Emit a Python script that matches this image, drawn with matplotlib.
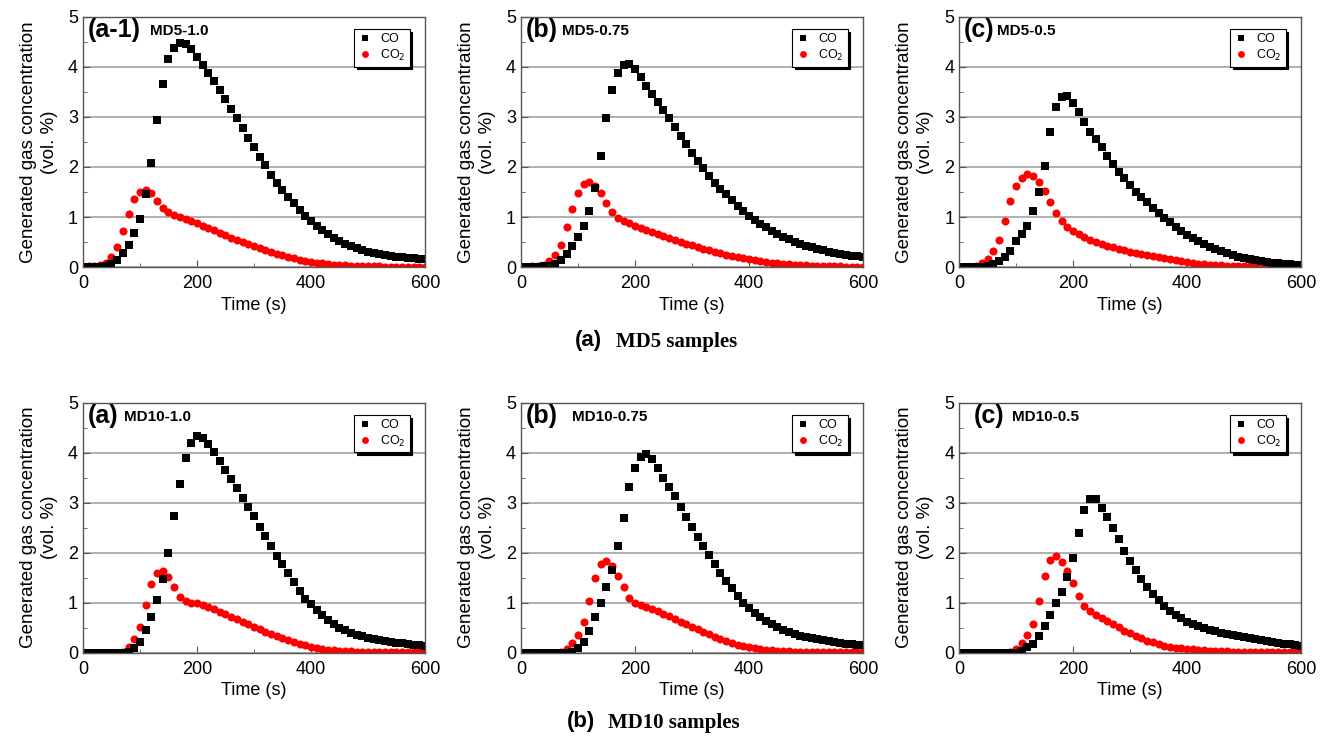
import numpy as np
import matplotlib
matplotlib.use("Agg")
import matplotlib.pyplot as plt
from matplotlib.ticker import MultipleLocator

plt.rcParams['font.family'] = ['Liberation Sans', 'DejaVu Sans']

# sampling time (s), one reading every 10 s
time = np.arange(0, 601, 10)

# MD5 samples
md5_10_co = [0, 0, 0.01, 0.01, 0.03,
             0.07, 0.15, 0.28, 0.45, 0.68,
             0.97, 1.45, 2.08, 2.93, 3.65,
             4.15, 4.38, 4.47, 4.46, 4.35,
             4.20, 4.03, 3.88, 3.72, 3.53,
             3.35, 3.15, 2.97, 2.77, 2.58,
             2.39, 2.19, 2.03, 1.84, 1.68,
             1.54, 1.40, 1.28, 1.14, 1.03,
             0.93, 0.83, 0.74, 0.66, 0.59,
             0.53, 0.47, 0.42, 0.38, 0.34,
             0.31, 0.28, 0.26, 0.24, 0.22,
             0.21, 0.20, 0.19, 0.18, 0.17,
             0.16]
md5_10_co2 = [0.01, 0.02, 0.03, 0.05, 0.09,
              0.20, 0.40, 0.72, 1.07, 1.35,
              1.50, 1.53, 1.47, 1.32, 1.18,
              1.10, 1.05, 1.01, 0.96, 0.92,
              0.88, 0.83, 0.79, 0.74, 0.69,
              0.64, 0.59, 0.55, 0.50, 0.46,
              0.42, 0.38, 0.34, 0.30, 0.27,
              0.24, 0.21, 0.18, 0.15, 0.13,
              0.11, 0.09, 0.08, 0.06, 0.05,
              0.04, 0.04, 0.03, 0.03, 0.02,
              0.02, 0.02, 0.02, 0.01, 0.01,
              0.01, 0.01, 0.01, 0.01, 0.01,
              0.01]
md5_075_co = [0, 0, 0, 0.01, 0.02,
              0.03, 0.07, 0.15, 0.27, 0.42,
              0.60, 0.82, 1.13, 1.57, 2.22,
              2.98, 3.53, 3.87, 4.03, 4.05,
              3.95, 3.79, 3.62, 3.45, 3.30,
              3.13, 2.97, 2.79, 2.61, 2.45,
              2.28, 2.12, 1.97, 1.82, 1.68,
              1.55, 1.45, 1.33, 1.22, 1.13,
              1.03, 0.95, 0.87, 0.80, 0.73,
              0.67, 0.61, 0.56, 0.51, 0.47,
              0.43, 0.40, 0.37, 0.34, 0.31,
              0.29, 0.27, 0.25, 0.23, 0.22,
              0.20]
md5_075_co2 = [0.01, 0.01, 0.02, 0.03, 0.05,
               0.13, 0.25, 0.45, 0.80, 1.17,
               1.48, 1.65, 1.70, 1.62, 1.48,
               1.28, 1.10, 0.99, 0.93, 0.89,
               0.83, 0.79, 0.75, 0.71, 0.67,
               0.63, 0.59, 0.55, 0.51, 0.47,
               0.44, 0.40, 0.37, 0.34, 0.31,
               0.28, 0.25, 0.22, 0.20, 0.18,
               0.16, 0.14, 0.12, 0.10, 0.09,
               0.08, 0.07, 0.06, 0.05, 0.04,
               0.04, 0.03, 0.03, 0.02, 0.02,
               0.02, 0.02, 0.01, 0.01, 0.01,
               0.01]
md5_05_co = [0, 0, 0, 0, 0.01,
             0.02, 0.06, 0.13, 0.21, 0.33,
             0.52, 0.67, 0.83, 1.12, 1.49,
             2.02, 2.69, 3.19, 3.39, 3.42,
             3.28, 3.09, 2.89, 2.70, 2.55,
             2.39, 2.21, 2.05, 1.90, 1.77,
             1.63, 1.50, 1.40, 1.29, 1.19,
             1.09, 0.99, 0.90, 0.81, 0.73,
             0.65, 0.59, 0.52, 0.46, 0.41,
             0.36, 0.32, 0.28, 0.24, 0.21,
             0.18, 0.16, 0.14, 0.12, 0.10,
             0.09, 0.08, 0.07, 0.06, 0.05,
             0.05]
md5_05_co2 = [0.01, 0.01, 0.01, 0.03, 0.08,
              0.17, 0.32, 0.55, 0.93, 1.31,
              1.61, 1.78, 1.85, 1.81, 1.70,
              1.52, 1.30, 1.09, 0.93, 0.81,
              0.73, 0.67, 0.60, 0.55, 0.51,
              0.47, 0.43, 0.40, 0.37, 0.34,
              0.31, 0.28, 0.26, 0.24, 0.22,
              0.20, 0.18, 0.16, 0.14, 0.12,
              0.10, 0.09, 0.07, 0.06, 0.05,
              0.04, 0.04, 0.03, 0.03, 0.02,
              0.02, 0.02, 0.02, 0.01, 0.01,
              0.01, 0.01, 0.01, 0.01, 0.01,
              0.01]

# MD10 samples
md10_10_co = [0, 0, 0, 0, 0,
              0, 0, 0, 0.02, 0.10,
              0.22, 0.45, 0.72, 1.05, 1.47,
              2.00, 2.73, 3.37, 3.90, 4.20,
              4.34, 4.30, 4.17, 4.02, 3.84,
              3.65, 3.47, 3.29, 3.10, 2.92,
              2.73, 2.52, 2.33, 2.14, 1.94,
              1.77, 1.59, 1.41, 1.23, 1.08,
              0.97, 0.85, 0.75, 0.65, 0.57,
              0.50, 0.45, 0.40, 0.36, 0.33,
              0.30, 0.28, 0.26, 0.24, 0.22,
              0.20, 0.19, 0.17, 0.16, 0.15,
              0.14]
md10_10_co2 = [0, 0, 0, 0, 0,
               0, 0, 0.02, 0.12, 0.27,
               0.52, 0.95, 1.37, 1.60, 1.63,
               1.52, 1.31, 1.12, 1.03, 1.00,
               0.99, 0.95, 0.91, 0.87, 0.82,
               0.77, 0.72, 0.67, 0.62, 0.57,
               0.52, 0.47, 0.42, 0.37, 0.33,
               0.29, 0.25, 0.21, 0.18, 0.15,
               0.12, 0.10, 0.08, 0.06, 0.05,
               0.04, 0.03, 0.03, 0.02, 0.02,
               0.02, 0.01, 0.01, 0.01, 0.01,
               0.01, 0.01, 0.01, 0.01, 0.01,
               0.01]
md10_075_co = [0, 0, 0, 0, 0,
               0, 0, 0, 0, 0.02,
               0.10, 0.22, 0.43, 0.72, 1.00,
               1.31, 1.65, 2.13, 2.70, 3.31,
               3.70, 3.91, 3.97, 3.87, 3.69,
               3.50, 3.32, 3.13, 2.91, 2.71,
               2.52, 2.32, 2.13, 1.95, 1.77,
               1.59, 1.43, 1.29, 1.13, 1.00,
               0.90, 0.80, 0.72, 0.64, 0.57,
               0.51, 0.46, 0.41, 0.37, 0.34,
               0.31, 0.29, 0.27, 0.25, 0.23,
               0.21, 0.20, 0.18, 0.17, 0.16,
               0.15]
md10_075_co2 = [0, 0, 0, 0, 0,
                0, 0, 0.02, 0.07, 0.20,
                0.35, 0.61, 1.03, 1.50, 1.77,
                1.83, 1.73, 1.53, 1.31, 1.10,
                1.00, 0.95, 0.91, 0.87, 0.83,
                0.78, 0.73, 0.68, 0.62, 0.57,
                0.52, 0.47, 0.42, 0.37, 0.32,
                0.27, 0.23, 0.19, 0.16, 0.13,
                0.11, 0.09, 0.07, 0.06, 0.05,
                0.04, 0.03, 0.03, 0.02, 0.02,
                0.02, 0.01, 0.01, 0.01, 0.01,
                0.01, 0.01, 0.01, 0.01, 0.01,
                0.01]
md10_05_co = [0, 0, 0, 0, 0,
              0, 0, 0, 0, 0,
              0, 0.04, 0.12, 0.17, 0.33,
              0.54, 0.75, 0.99, 1.22, 1.52,
              1.89, 2.39, 2.85, 3.08, 3.07,
              2.90, 2.71, 2.50, 2.27, 2.04,
              1.84, 1.65, 1.47, 1.31, 1.17,
              1.05, 0.94, 0.84, 0.75, 0.69,
              0.62, 0.57, 0.53, 0.49, 0.46,
              0.43, 0.40, 0.37, 0.35, 0.33,
              0.31, 0.29, 0.27, 0.25, 0.23,
              0.21, 0.20, 0.18, 0.17, 0.15,
              0.14]
md10_05_co2 = [0, 0, 0, 0, 0,
               0, 0, 0, 0, 0.02,
               0.08, 0.20, 0.35, 0.57, 1.04,
               1.54, 1.85, 1.93, 1.82, 1.64,
               1.40, 1.13, 0.93, 0.83, 0.75,
               0.69, 0.64, 0.57, 0.51, 0.44,
               0.39, 0.33, 0.29, 0.24, 0.21,
               0.17, 0.14, 0.12, 0.10, 0.09,
               0.08, 0.07, 0.06, 0.05, 0.04,
               0.04, 0.03, 0.03, 0.02, 0.02,
               0.02, 0.01, 0.01, 0.01, 0.01,
               0.01, 0.01, 0.01, 0.01, 0.01,
               0.01]

panels = [
    ("(a-1)", "MD5-1.0", md5_10_co, md5_10_co2),
    ("(b)", "MD5-0.75", md5_075_co, md5_075_co2),
    ("(c)", "MD5-0.5", md5_05_co, md5_05_co2),
    ("(a)", "MD10-1.0", md10_10_co, md10_10_co2),
    ("(b)", "MD10-0.75", md10_075_co, md10_075_co2),
    ("(c)", "MD10-0.5", md10_05_co, md10_05_co2),
]
# where the sample name starts, in axes fraction
name_x = [0.196, 0.12, 0.111, 0.12, 0.149, 0.155]
tag_x = [0.015, 0.015, 0.015, 0.015, 0.015, 0.044]

fig = plt.figure(figsize=(13.27, 7.38), dpi=100)
lefts = [0.0625, 0.3926, 0.7227]
bottoms = [0.6382, 0.1156]
w, h = 0.2577, 0.3388

for i, (tag, name, co, co2) in enumerate(panels):
    ax = fig.add_axes([lefts[i % 3], bottoms[i // 3], w, h])
    ax.set_axisbelow(True)
    ax.grid(axis='y', color='#9a9a9a', linewidth=1.1)
    c2 = ax.plot(time, co2, 'o', color='red', markersize=5.8, markeredgewidth=0, label='CO$_2$')[0]
    c1 = ax.plot(time, co, 's', color='black', markersize=5.4, markeredgewidth=0, label='CO')[0]
    ax.set_xlim(0, 600)
    ax.set_ylim(0, 5)
    ax.xaxis.set_major_locator(MultipleLocator(200))
    ax.xaxis.set_minor_locator(MultipleLocator(100))
    ax.yaxis.set_major_locator(MultipleLocator(1))
    ax.yaxis.set_minor_locator(MultipleLocator(0.5))
    ax.tick_params(which='both', direction='in', labelsize=13, color='#555555')
    ax.tick_params(axis='x', which='both', pad=6)
    ax.tick_params(which='major', length=5)
    ax.tick_params(which='minor', length=3)
    for s in ax.spines.values():
        s.set_color('#555555')
        s.set_linewidth(1.0)
    ax.set_xlabel("Time (s)", fontsize=13, labelpad=3)
    ax.set_ylabel("Generated gas concentration\n(vol. %)", fontsize=13.5, labelpad=7,
                  linespacing=1.35)
    ax.text(tag_x[i], 0.948, tag, transform=ax.transAxes, fontsize=18, fontweight='bold',
            ha='left', va='center')
    ax.text(name_x[i], 0.944, name, transform=ax.transAxes, fontsize=11, fontweight='bold',
            ha='left', va='center')
    leg = ax.legend(handles=[c1, c2], loc='upper right', bbox_to_anchor=(0.955, 0.95),
                    fontsize=9, frameon=True, shadow={'color': 'black', 'alpha': 1},
                    fancybox=False, handletextpad=0.6, borderpad=0.3, labelspacing=0.2,
                    handlelength=1.2, markerscale=0.85, borderaxespad=0)
    leg.get_frame().set_edgecolor('black')
    leg.get_frame().set_linewidth(0.8)
    leg.get_frame().set_alpha(1)

# group captions
fig.text(0.433, 0.539, "(a)", fontsize=16, fontweight='bold', ha='left', va='center')
fig.text(0.464, 0.537, "MD5 samples", fontsize=15, fontweight='bold', ha='left', va='center',
         family='Liberation Serif')
fig.text(0.427, 0.022, "(b)", fontsize=16, fontweight='bold', ha='left', va='center')
fig.text(0.458, 0.020, "MD10 samples", fontsize=15, fontweight='bold', ha='left', va='center',
         family='Liberation Serif')

fig.savefig("out.png", dpi=100)
